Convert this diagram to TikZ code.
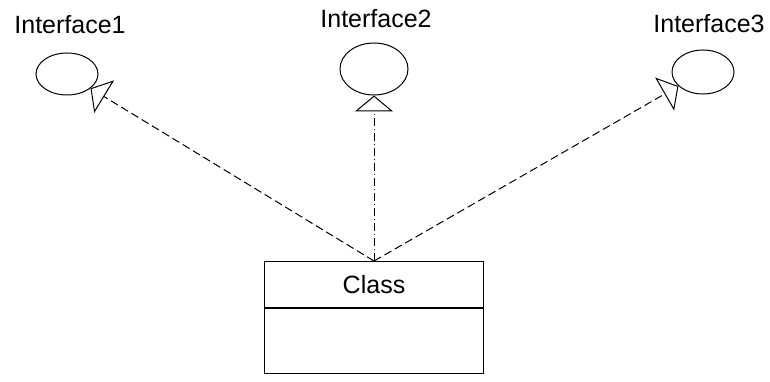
\documentclass[tikz,border=0pt]{standalone}
\usepackage{fontspec}
\setmainfont{Liberation Sans}
\usetikzlibrary{shapes.geometric}
\usetikzlibrary{arrows.meta}

\tikzset{
  iface/.style={draw, ellipse, line width=1pt, inner sep=0pt},
  ilabel/.style={anchor=base, inner sep=0pt, font=\fontsize{25}{30}\selectfont},
  classbox/.style={draw, line width=1pt, minimum width=219pt, font=\fontsize{25}{30}\selectfont},
  realize/.style={line width=1pt, -{Triangle[open, length=16pt, width=38pt]}},
}

\begin{document}
\begin{tikzpicture}[x=1pt, y=-1pt]

\useasboundingbox (0,0) rectangle (770,382);

% interfaces
\node[iface, minimum width=62pt, minimum height=42pt] (if1) at (67,74) {};
\node[iface, minimum width=68pt, minimum height=52pt] (if2) at (374,69) {};
\node[iface, minimum width=62pt, minimum height=44pt] (if3) at (703,72) {};

\node[ilabel] (if1name) at (70,34) {Interface1};
\node[ilabel] (if2name) at (376,28) {Interface2};
\node[ilabel] (if3name) at (709,33) {Interface3};

% class
\node[classbox, minimum height=46pt, anchor=north west] (cname) at (264,261) {Class};
\node[classbox, minimum height=65pt, anchor=north] (cbody) at (cname.south) {};

% realizations
\draw[realize, dash pattern=on 8pt off 4pt] (cname.north) -- (if1);
\draw[realize, dash pattern=on 8pt off 3pt on 1pt off 3pt] (cname.north) -- (if2);
\draw[realize, dash pattern=on 8pt off 4pt] (cname.north) -- (if3);

\end{tikzpicture}
\end{document}
